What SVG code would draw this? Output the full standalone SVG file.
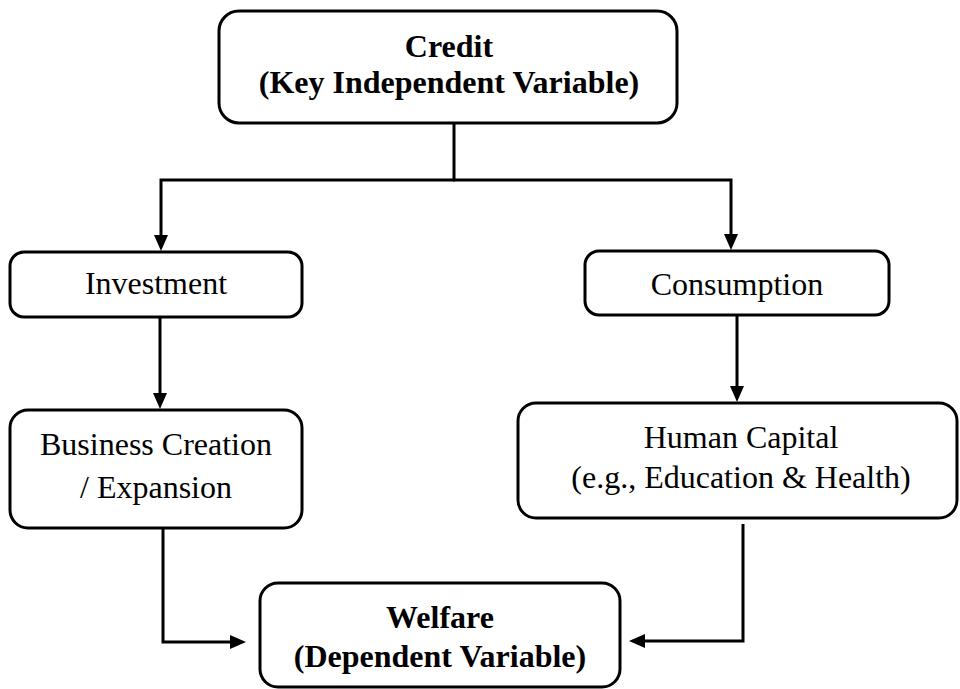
<svg xmlns="http://www.w3.org/2000/svg" width="960" height="689" viewBox="0 0 960 689">
<style>
.box{fill:#fff;stroke:#000;stroke-width:3}
.t{font-family:"Liberation Serif","Times New Roman",serif;font-size:32px;fill:#000;text-anchor:middle}
.b{font-weight:bold}
.c{fill:none;stroke:#000;stroke-width:3}
</style>
<defs>
<marker id="ah" markerUnits="userSpaceOnUse" markerWidth="16" markerHeight="14" refX="8" refY="7" orient="auto">
<path d="M0,0 L16,7 L0,14 z" fill="#000"/>
</marker>
</defs>
<rect width="960" height="689" fill="#fff"/>
<g id="connectors">
<path class="c" d="M454,123 V181"/>
<path class="c" d="M455,180 H161 V243" marker-end="url(#ah)"/>
<path class="c" d="M453,180 H731 V242" marker-end="url(#ah)"/>
<path class="c" d="M160,317 V401" marker-end="url(#ah)"/>
<path class="c" d="M737,315 V394" marker-end="url(#ah)"/>
<path class="c" d="M163,528 V642 H238" marker-end="url(#ah)"/>
<path class="c" d="M743,524 V641 H637" marker-end="url(#ah)"/>
</g>
<g id="credit">
<rect class="box" x="219" y="11" width="458" height="112" rx="20"/>
<text class="t b" x="449" y="57">Credit</text>
<text class="t b" x="449" y="93">(Key Independent Variable)</text>
</g>
<g id="investment">
<rect class="box" x="10" y="252" width="292" height="65" rx="14"/>
<text class="t" x="156" y="294">Investment</text>
</g>
<g id="consumption">
<rect class="box" x="585" y="251" width="304" height="64" rx="14"/>
<text class="t" x="737" y="295">Consumption</text>
</g>
<g id="business">
<rect class="box" x="10" y="410" width="292" height="118" rx="18"/>
<text class="t" x="156" y="455">Business Creation</text>
<text class="t" x="156" y="498">/ Expansion</text>
</g>
<g id="human-capital">
<rect class="box" x="518" y="403" width="439" height="115" rx="18"/>
<text class="t" x="741" y="448">Human Capital</text>
<text class="t" x="741" y="488">(e.g., Education &amp; Health)</text>
</g>
<g id="welfare">
<rect class="box" x="260" y="583" width="360" height="104" rx="18"/>
<text class="t b" x="440" y="628">Welfare</text>
<text class="t b" x="440" y="667">(Dependent Variable)</text>
</g>
</svg>
